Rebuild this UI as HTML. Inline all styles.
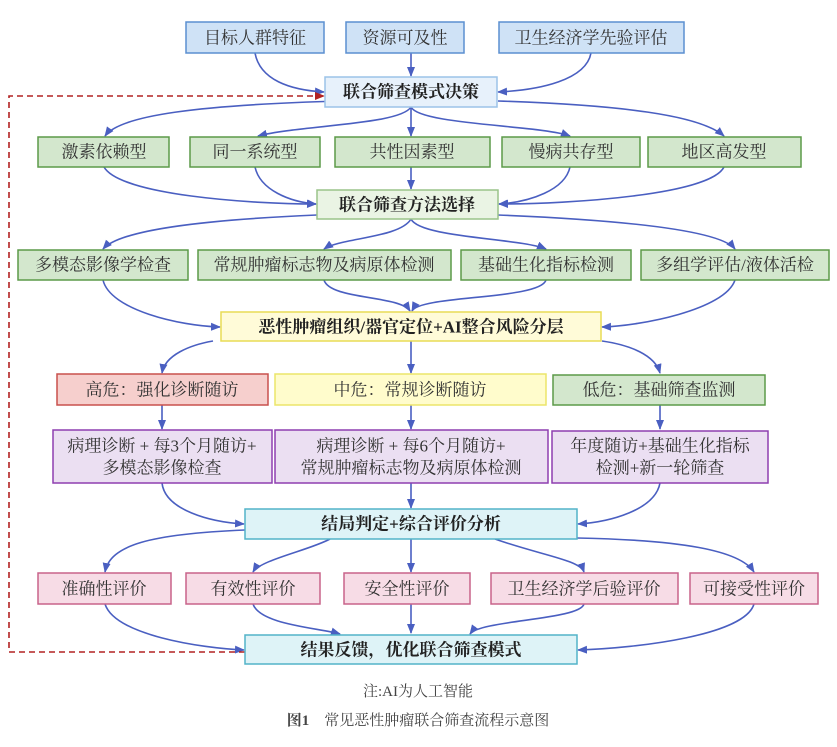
<!DOCTYPE html><html><head><meta charset="utf-8"><style>
body{margin:0;background:#fff}
svg text{font-family:"Liberation Serif","Noto Serif CJK SC","Noto Sans CJK SC",serif;font-size:17px;fill:#333;text-anchor:middle;dominant-baseline:central}
.b{font-weight:bold;fill:#222}
</style></head><body>
<svg width="837" height="742" viewBox="0 0 837 742" xmlns="http://www.w3.org/2000/svg">
<defs><marker id="a" markerWidth="10" markerHeight="10" refX="9" refY="5" orient="auto" markerUnits="userSpaceOnUse"><path d="M0,1 L10,5 L0,9 Z" fill="#4a5fc1"/></marker>
<marker id="r" markerWidth="10" markerHeight="10" refX="9" refY="5" orient="auto" markerUnits="userSpaceOnUse"><path d="M0,1 L10,5 L0,9 Z" fill="#b22222"/></marker></defs>
<g fill="none" stroke="#4a5fc1" stroke-width="1.6" marker-end="url(#a)">
<path d="M255,53 C260,80 290,90 324,92"/><path d="M411,53 L411,76"/><path d="M591,53 C586,80 540,90 498,92"/>
<path d="M340,101 C200,105 120,115 105,136"/><path d="M411,107 C400,125 300,125 258,136"/><path d="M411,107 L411,136"/><path d="M411,107 C420,125 540,125 570,136"/><path d="M498,101 C620,105 700,115 724,136"/>
<path d="M104,167 C120,195 250,204 316,204"/><path d="M255,167 C260,190 290,202 316,204"/><path d="M411,167 L411,189"/><path d="M570,167 C565,190 530,202 499,204"/><path d="M724,167 C710,195 570,204 499,204"/>
<path d="M317,215 C200,220 120,230 103,249"/><path d="M411,219 C400,238 340,238 324,249"/><path d="M411,219 C420,238 520,238 546,249"/><path d="M498,215 C620,220 720,230 735,249"/>
<path d="M103,280 C110,310 180,326 220,327"/><path d="M324,280 C330,300 400,295 410,311"/><path d="M546,280 C540,300 420,295 412,311"/><path d="M735,280 C725,310 640,326 602,327"/>
<path d="M213,341 C190,345 165,355 162,373"/><path d="M411,341 L411,373"/><path d="M602,341 C630,345 655,355 660,373"/>
<path d="M162,405 L162,429"/><path d="M411,405 L411,429"/><path d="M660,405 L660,429"/>
<path d="M162,483 C165,510 210,522 244,524"/><path d="M411,483 L411,508"/><path d="M660,483 C655,510 610,522 578,524"/>
<path d="M245,530 C150,534 110,545 105,572"/><path d="M330,539 C310,550 260,560 253,572"/><path d="M411,539 L411,572"/><path d="M495,539 C540,555 580,560 584,572"/><path d="M577,538 C680,540 740,550 754,572"/>
<path d="M105,604 C115,635 200,648 244,650"/><path d="M253,604 C260,625 320,628 340,634"/><path d="M411,604 L411,633"/><path d="M584,604 C580,620 480,620 470,634"/><path d="M754,604 C745,635 640,648 578,650"/>
</g>
<path d="M245,652 L9,652 L9,96 L324,96" fill="none" stroke="#b22222" stroke-width="1.6" stroke-dasharray="6,4" marker-end="url(#r)"/>
<g stroke-width="1.5">
<rect x="186" y="22" width="138" height="31" fill="#cfe2f6" stroke="#5b8fd0"/>
<rect x="346" y="22" width="118" height="31" fill="#cfe2f6" stroke="#5b8fd0"/>
<rect x="499" y="22" width="185" height="31" fill="#cfe2f6" stroke="#5b8fd0"/>
<rect x="325" y="77" width="172" height="30" fill="#e7f1fb" stroke="#9cc3e8"/>
<g fill="#d3e7cd" stroke="#5c9a48">
<rect x="38" y="137" width="131" height="30"/><rect x="190" y="137" width="130" height="30"/><rect x="335" y="137" width="155" height="30"/><rect x="502" y="137" width="138" height="30"/><rect x="648" y="137" width="153" height="30"/>
<rect x="18" y="250" width="170" height="30"/><rect x="198" y="250" width="253" height="30"/><rect x="461" y="250" width="170" height="30"/><rect x="641" y="250" width="188" height="30"/>
</g>
<rect x="317" y="190" width="181" height="29" fill="#eaf4e4" stroke="#9ac48a"/>
<rect x="221" y="312" width="380" height="29" fill="#fffbd8" stroke="#e8dc55"/>
<rect x="57" y="374" width="211" height="31" fill="#f6cfcd" stroke="#c8504d"/>
<rect x="275" y="374" width="271" height="31" fill="#fffccc" stroke="#ece56a"/>
<rect x="553" y="375" width="212" height="30" fill="#d3e7cd" stroke="#5c9a48"/>
<g fill="#ebdff2" stroke="#8e3fb0"><rect x="53" y="430" width="219" height="53"/><rect x="275" y="430" width="273" height="53"/><rect x="552" y="431" width="216" height="52"/></g>
<rect x="245" y="509" width="332" height="30" fill="#def3f7" stroke="#52b3c8"/>
<g fill="#f7dce6" stroke="#c8638a"><rect x="38" y="573" width="133" height="31"/><rect x="186" y="573" width="134" height="31"/><rect x="344" y="573" width="126" height="31"/><rect x="491" y="573" width="187" height="31"/><rect x="690" y="573" width="128" height="31"/></g>
<rect x="245" y="635" width="332" height="29" fill="#def3f7" stroke="#52b3c8"/>
</g>
<text x="255" y="38">目标人群特征</text><text x="405" y="38">资源可及性</text><text x="591" y="38">卫生经济学先验评估</text>
<text x="411" y="92" class="b">联合筛查模式决策</text>
<text x="104" y="152">激素依赖型</text><text x="255" y="152">同一系统型</text><text x="412" y="152">共性因素型</text><text x="571" y="152">慢病共存型</text><text x="724" y="152">地区高发型</text>
<text x="407" y="205" class="b">联合筛查方法选择</text>
<text x="103" y="265">多模态影像学检查</text><text x="324" y="265">常规肿瘤标志物及病原体检测</text><text x="546" y="265">基础生化指标检测</text><text x="735" y="265">多组学评估/液体活检</text>
<text x="411" y="327" class="b">恶性肿瘤组织/器官定位+AI整合风险分层</text>
<text x="162" y="390">高危：强化诊断随访</text><text x="410" y="390">中危：常规诊断随访</text><text x="659" y="390">低危：基础筛查监测</text>
<text x="162" y="446">病理诊断 + 每3个月随访+</text><text x="162" y="468">多模态影像检查</text>
<text x="411" y="446">病理诊断 + 每6个月随访+</text><text x="411" y="468">常规肿瘤标志物及病原体检测</text>
<text x="660" y="446">年度随访+基础生化指标</text><text x="660" y="468">检测+新一轮筛查</text>
<text x="411" y="524" class="b">结局判定+综合评价分析</text>
<text x="104" y="589">准确性评价</text><text x="253" y="589">有效性评价</text><text x="407" y="589">安全性评价</text><text x="584" y="589">卫生经济学后验评价</text><text x="754" y="589">可接受性评价</text>
<text x="411" y="650" class="b">结果反馈，优化联合筛查模式</text>
<text x="418" y="692" style="font-size:15px;fill:#444">注:AI为人工智能</text>
<text x="418" y="721" style="font-size:15px;fill:#444"><tspan font-weight="bold">图1</tspan>　常见恶性肿瘤联合筛查流程示意图</text>
</svg></body></html>
